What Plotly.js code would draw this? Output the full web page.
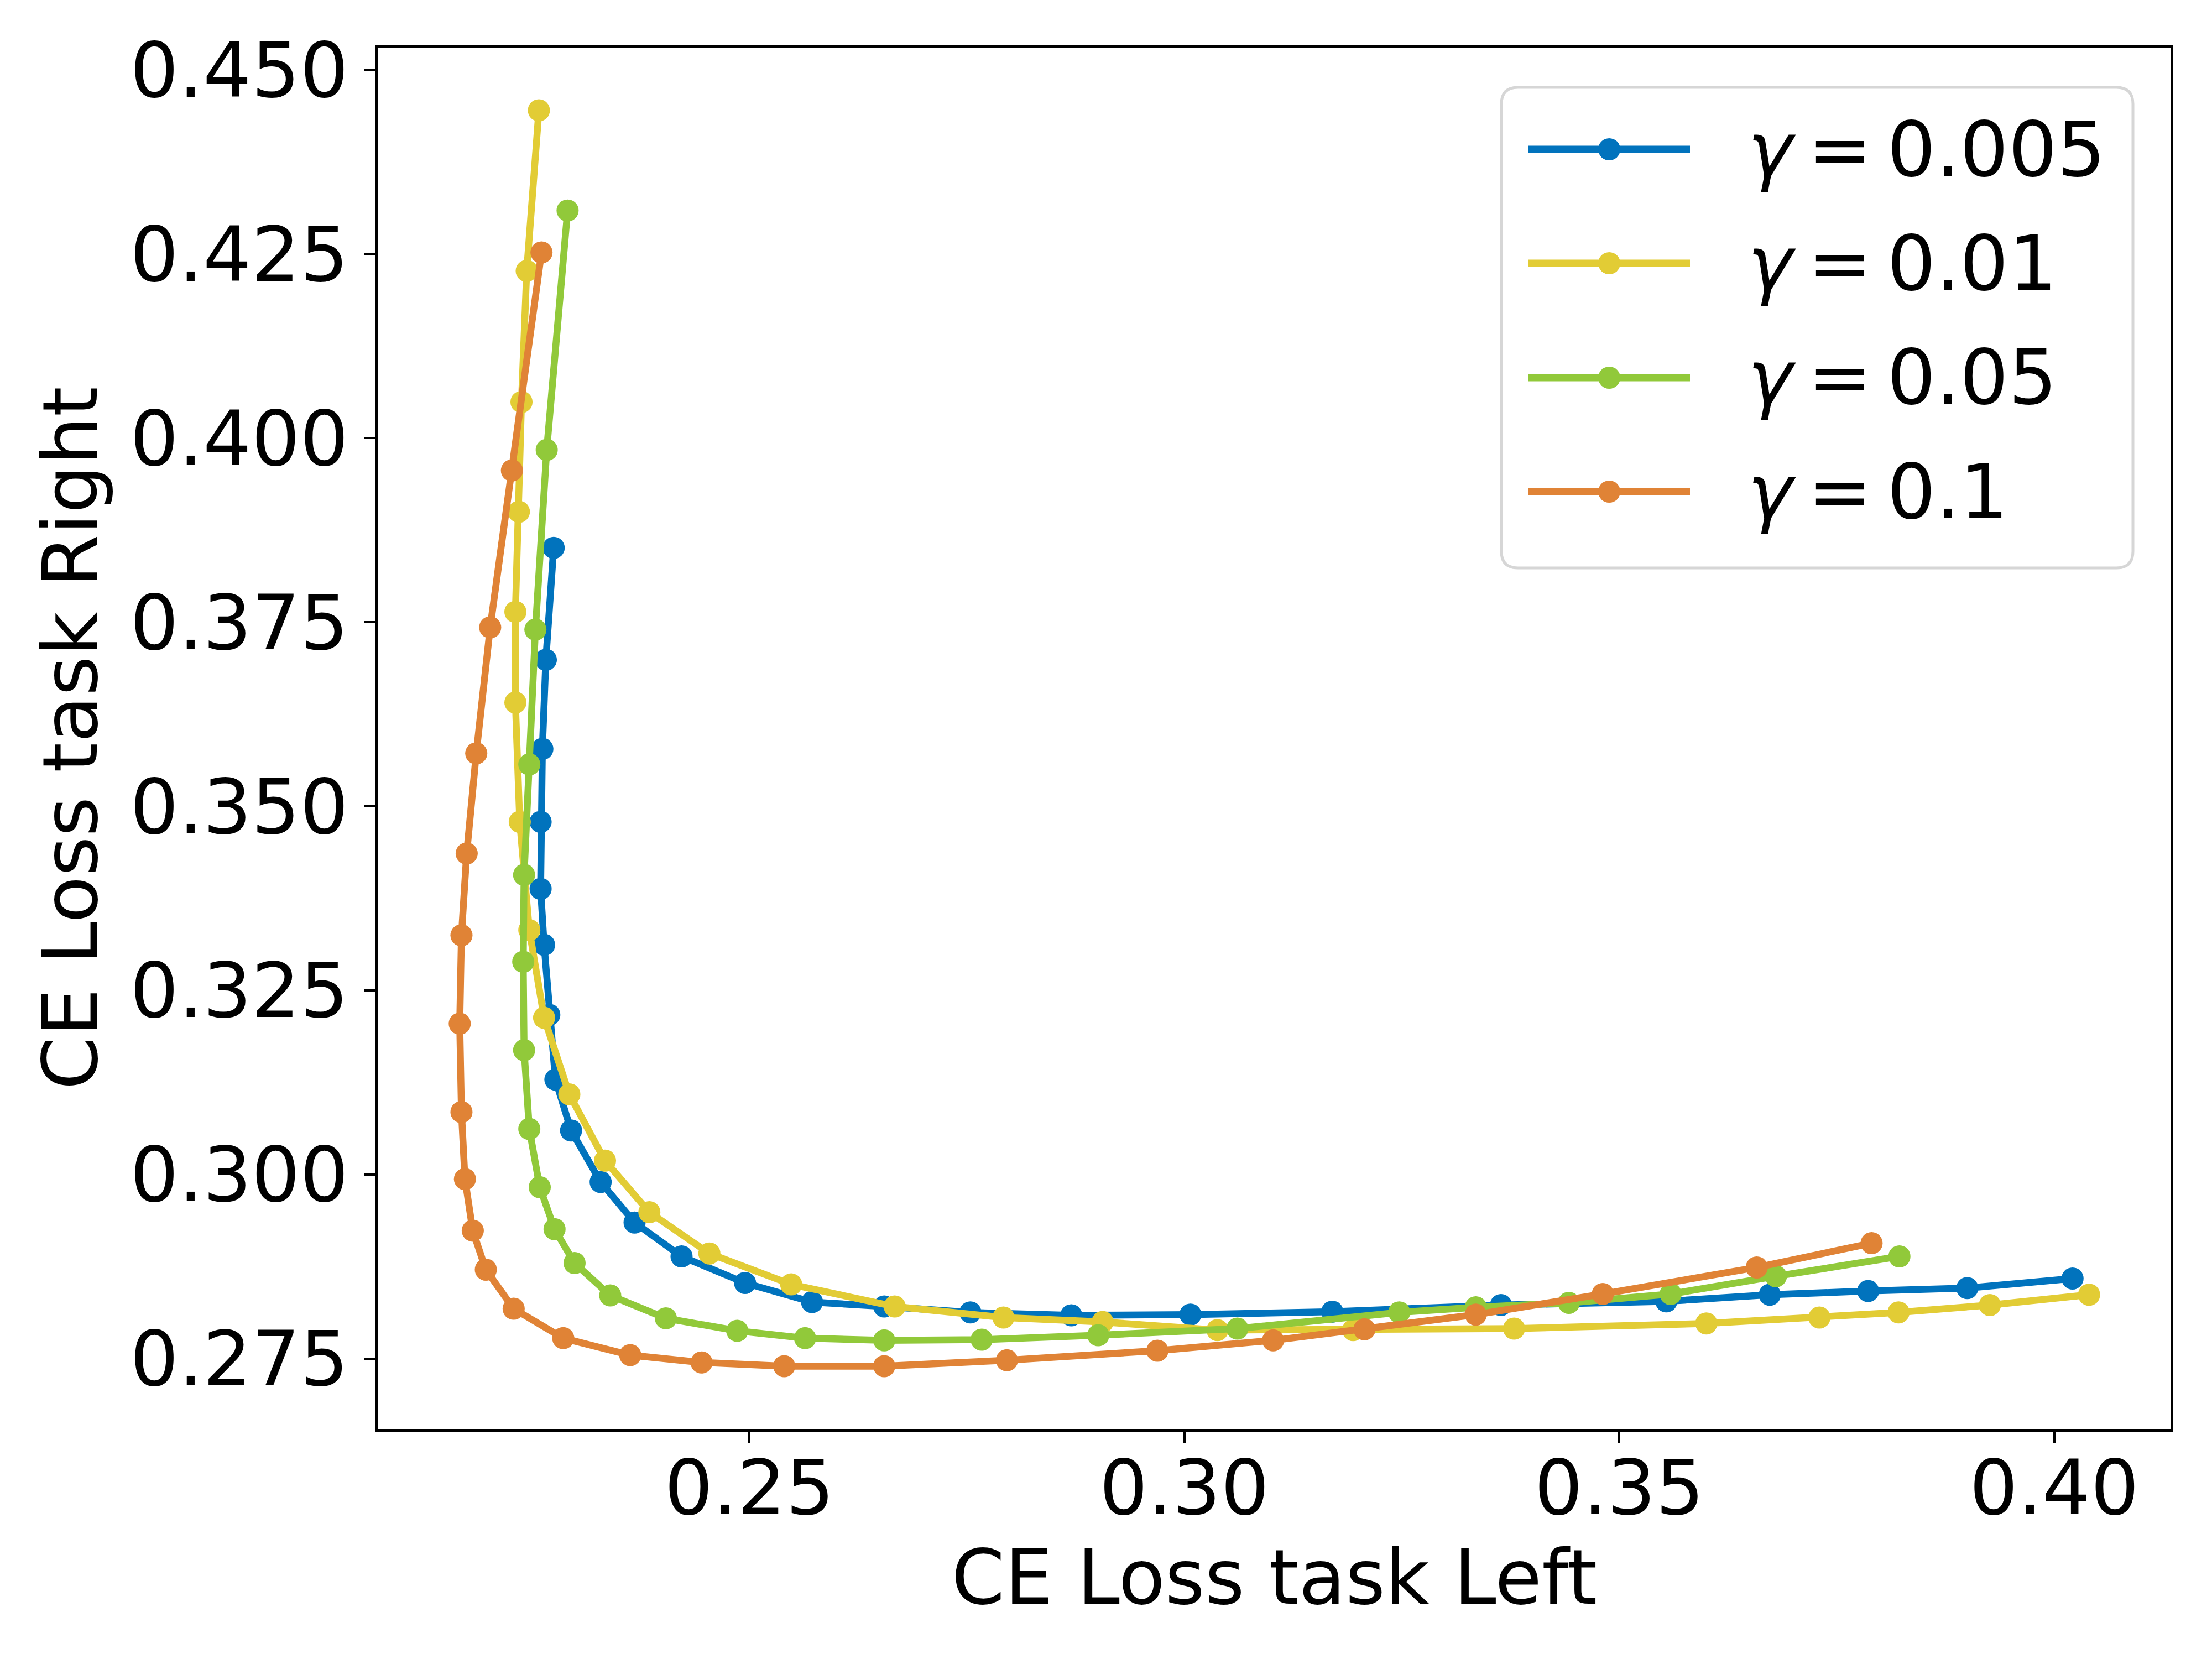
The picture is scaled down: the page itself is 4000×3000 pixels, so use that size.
<!DOCTYPE html>
<html><head><meta charset="utf-8">
<script src="https://cdn.plot.ly/plotly-3.0.1.min.js"></script>
<style>html,body{margin:0;padding:0;background:#fff}</style>
</head><body><div id="chart" style="width:4000px;height:3000px"></div>
<script>
// ---- data ----
const seriesLabels = ['0.005', '0.01', '0.05', '0.1'];
const seriesColors = ['#0173BD', '#E2CC35', '#91C93A', '#E08336'];

const x_g0005 = [0.2275,0.2266,0.2262,0.2260,0.2260,0.2264,0.2270,0.2277,0.2295,0.2329,0.2368,0.2422,0.2495,0.2572,0.2655,0.2754,0.2870,0.3007,0.3170,0.3364,0.3554,0.3673,0.3786,0.3900,0.4021];
const y_g0005 = [0.3851,0.3699,0.3578,0.3479,0.3388,0.3312,0.3217,0.3129,0.3060,0.2990,0.2935,0.2889,0.2853,0.2827,0.2821,0.2813,0.2809,0.2810,0.2814,0.2823,0.2828,0.2837,0.2842,0.2846,0.2859];

const x_g001 = [0.2258,0.2244,0.2238,0.2235,0.2231,0.2231,0.2236,0.2247,0.2264,0.2293,0.2334,0.2385,0.2454,0.2548,0.2667,0.2792,0.2906,0.3038,0.3194,0.3379,0.3600,0.3730,0.3821,0.3926,0.4040];
const y_g001 = [0.4445,0.4227,0.4049,0.3900,0.3764,0.3641,0.3479,0.3332,0.3213,0.3109,0.3019,0.2949,0.2893,0.2851,0.2821,0.2806,0.2800,0.2789,0.2789,0.2791,0.2798,0.2806,0.2813,0.2823,0.2837];

const x_g005 = [0.2291,0.2267,0.2254,0.2247,0.2241,0.2240,0.2241,0.2247,0.2259,0.2276,0.2299,0.2340,0.2404,0.2486,0.2564,0.2655,0.2767,0.2901,0.3061,0.3247,0.3335,0.3442,0.3559,0.3680,0.3822];
const y_g005 = [0.4309,0.3984,0.3740,0.3557,0.3407,0.3289,0.3169,0.3062,0.2983,0.2926,0.2880,0.2836,0.2805,0.2788,0.2778,0.2775,0.2776,0.2782,0.2791,0.2813,0.2820,0.2826,0.2838,0.2862,0.2889];

const x_g01 = [0.2261,0.2227,0.2202,0.2186,0.2175,0.2169,0.2167,0.2169,0.2173,0.2182,0.2197,0.2229,0.2286,0.2363,0.2445,0.2540,0.2655,0.2796,0.2969,0.3102,0.3207,0.3335,0.3481,0.3658,0.3790];
const y_g01 = [0.4252,0.3956,0.3743,0.3572,0.3436,0.3325,0.3205,0.3085,0.2994,0.2924,0.2871,0.2818,0.2778,0.2755,0.2745,0.2740,0.2740,0.2748,0.2761,0.2775,0.2790,0.2810,0.2838,0.2874,0.2907];

const xTickVals = [0.25, 0.30, 0.35, 0.40];
const xTickText = ['0.25', '0.30', '0.35', '0.40'];
const yTickVals = [0.275, 0.300, 0.325, 0.350, 0.375, 0.400, 0.425, 0.450];
const yTickText = ['0.275', '0.300', '0.325', '0.350', '0.375', '0.400', '0.425', '0.450'];

// ---- build ----
const xs = [x_g0005, x_g001, x_g005, x_g01];
const ys = [y_g0005, y_g001, y_g005, y_g01];

const FONT = 'DejaVu Sans, Liberation Sans, sans-serif';
const FS = 138;

const traces = xs.map((x, i) => ({
  type: 'scatter', mode: 'lines+markers', x: x, y: ys[i],
  name: 'γ = ' + seriesLabels[i], showlegend: false,
  line: {color: seriesColors[i], width: 12.5},
  marker: {color: seriesColors[i], size: 40, line: {width: 0}}
}));

// matplotlib-style 5% data margins
function padRange(arrs) {
  const all = [].concat(...arrs);
  const lo = Math.min(...all), hi = Math.max(...all);
  const d = (hi - lo) * 0.05;
  return [lo - d, hi + d];
}
const xRange = padRange(xs);
const yRange = padRange(ys);

// plot box in pixels
const Lp = 684, Rp = 3925, Tp = 86, Bp = 2584;
const px = X => (X - Lp) / (Rp - Lp);
const py = Y => (Bp - Y) / (Bp - Tp);

// custom legend (matplotlib look)
const bx0 = 2715, bx1 = 3857, by0 = 158, by1 = 1027, r = 30;
const P = (X, Y) => px(X).toFixed(6) + ',' + py(Y).toFixed(6);
const boxPath = 'M' + P(bx0 + r, by0) + ' L' + P(bx1 - r, by0) + ' Q' + P(bx1, by0) + ' ' + P(bx1, by0 + r) +
  ' L' + P(bx1, by1 - r) + ' Q' + P(bx1, by1) + ' ' + P(bx1 - r, by1) +
  ' L' + P(bx0 + r, by1) + ' Q' + P(bx0, by1) + ' ' + P(bx0, by1 - r) +
  ' L' + P(bx0, by0 + r) + ' Q' + P(bx0, by0) + ' ' + P(bx0 + r, by0) + ' Z';

const shapes = [{type: 'path', xref: 'paper', yref: 'paper', path: boxPath,
  fillcolor: 'rgba(255,255,255,0.8)', line: {color: '#d6d6d6', width: 5}, layer: 'above'}];
const annotations = [];
const rowY = [270, 476, 683, 889];
const SP = '\u2009';
seriesLabels.forEach((lab, i) => {
  const Y = rowY[i];
  shapes.push({type: 'line', xref: 'paper', yref: 'paper', x0: px(2764), x1: px(3056), y0: py(Y), y1: py(Y),
    line: {color: seriesColors[i], width: 13}, layer: 'above'});
  shapes.push({type: 'circle', xref: 'paper', yref: 'paper', x0: px(2890), x1: px(2930), y0: py(Y + 20), y1: py(Y - 20),
    fillcolor: seriesColors[i], line: {width: 0}, layer: 'above'});
  annotations.push({xref: 'paper', yref: 'paper', x: px(3158), y: py(Y), xanchor: 'left', yanchor: 'middle',
    text: '<i>γ</i>' + SP + '=' + SP + lab, showarrow: false, font: {family: FONT, size: FS, color: '#000'}});
});

const axisCommon = {
  ticks: 'outside', ticklen: 21, tickwidth: 4, tickcolor: '#000',
  showline: true, linewidth: 5, linecolor: '#000', mirror: true,
  showgrid: false, zeroline: false,
  tickfont: {family: FONT, size: FS, color: '#000'}
};

const layout = {
  width: 4000, height: 3000,
  margin: {l: Lp, r: 4000 - Rp, t: Tp, b: 3000 - Bp, pad: 0},
  paper_bgcolor: '#fff', plot_bgcolor: '#fff',
  font: {family: FONT, size: FS, color: '#000'},
  showlegend: false,
  xaxis: Object.assign({}, axisCommon, {
    range: xRange, tickmode: 'array', tickvals: xTickVals, ticktext: xTickText,
    ticklabelstandoff: -38,
    title: {text: 'CE Loss task Left', font: {family: FONT, size: FS, color: '#000'}, standoff: 35}
  }),
  yaxis: Object.assign({}, axisCommon, {
    range: yRange, tickmode: 'array', tickvals: yTickVals, ticktext: yTickText,
    title: {text: 'CE Loss task Right', font: {family: FONT, size: FS, color: '#000'}, standoff: 15}
  }),
  shapes: shapes, annotations: annotations
};

Plotly.newPlot('chart', traces, layout, {staticPlot: true, displayModeBar: false});
</script>
</body></html>
